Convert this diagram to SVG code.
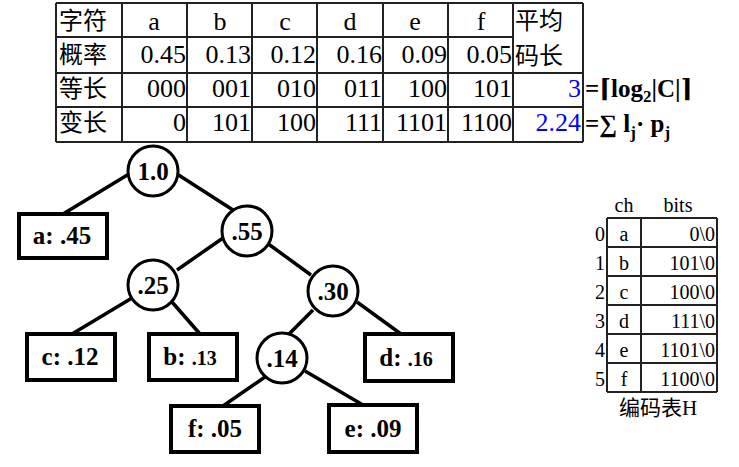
<svg xmlns="http://www.w3.org/2000/svg" width="739" height="467" viewBox="0 0 739 467">
<style>
.grid{stroke:#222;stroke-width:2;fill:none}
.cj{font-family:"Noto Sans CJK SC","Noto Sans CJK JP",sans-serif;font-size:24px;fill:#000}
.tm{font-family:"Liberation Serif","Times New Roman",Times,"DejaVu Serif",serif;font-size:26px;fill:#000}
.r{text-anchor:end}
.m{text-anchor:middle}
.blue{fill:#0000FF}
.fm{font-family:"Liberation Serif","Times New Roman",Times,"DejaVu Serif",serif;font-size:25px;font-weight:bold;fill:#000}
.edge{stroke:#000;stroke-width:3.5;fill:none}
.node circle{fill:#fff;stroke:#000;stroke-width:3}
.node rect{fill:#fff;stroke:#000;stroke-width:4}
.nt{font-family:"Liberation Serif","Times New Roman",Times,"DejaVu Serif",serif;font-size:25px;font-weight:bold;fill:#000;text-anchor:middle}
.ht{stroke:#222;stroke-width:2;fill:none}
.hs{font-family:"Liberation Serif","Times New Roman",Times,"DejaVu Serif",serif;font-size:20px;fill:#000}
.hc{font-family:"Noto Sans CJK SC",sans-serif;font-size:21px;fill:#000}
.hh{font-family:"Liberation Serif","Times New Roman",Times,"DejaVu Serif",serif}
</style>
<g id="table">
<path class="grid" d="M56,3H583M56,37H513M56,73H583M56,107H583M56,142H583M56,3V142M122,3V142M187,3V142M252,3V142M317,3V142M383,3V142M448,3V142M513,3V142M583,3V142"/>
<text class="cj" x="59" y="29">字符</text>
<text class="cj" x="59" y="63">概率</text>
<text class="cj" x="59" y="97">等长</text>
<text class="cj" x="59" y="131">变长</text>
<text class="cj" x="515" y="29">平均</text>
<text class="cj" x="515" y="64">码长</text>
<g class="tm m">
<text x="154" y="30">a</text><text x="220" y="30">b</text><text x="285" y="30">c</text><text x="350" y="30">d</text><text x="415" y="30">e</text><text x="481" y="30">f</text>
</g>
<g class="tm r">
<text x="186" y="63">0.45</text><text x="251" y="63">0.13</text><text x="316" y="63">0.12</text><text x="382" y="63">0.16</text><text x="447" y="63">0.09</text><text x="512" y="63">0.05</text>
<text x="186" y="97">000</text><text x="251" y="97">001</text><text x="316" y="97">010</text><text x="382" y="97">011</text><text x="447" y="97">100</text><text x="512" y="97">101</text>
<text x="186" y="131">0</text><text x="251" y="131">101</text><text x="316" y="131">100</text><text x="382" y="131">111</text><text x="447" y="131">1101</text><text x="512" y="131">1100</text>
<text class="blue" x="581" y="97">3</text><text class="blue" x="581" y="131">2.24</text>
</g>
<text class="fm" x="585" y="97">=⌈log<tspan font-size="17" dy="5">2</tspan><tspan dy="-5">|C|⌉</tspan></text>
<text class="fm" x="585" y="132">=∑ l<tspan font-size="17" dy="6">j</tspan><tspan dy="-6">· p</tspan><tspan font-size="17" dy="6">j</tspan></text>
</g>
<g id="connectors">
<line class="edge" x1="129" y1="174" x2="63" y2="214"/>
<line class="edge" x1="177" y1="174" x2="233" y2="210"/>
<line class="edge" x1="223" y1="238" x2="177" y2="270"/>
<line class="edge" x1="267" y1="243" x2="311" y2="275"/>
<line class="edge" x1="132" y1="298" x2="72" y2="334"/>
<line class="edge" x1="172" y1="302" x2="200" y2="334"/>
<line class="edge" x1="313" y1="310" x2="287" y2="336"/>
<line class="edge" x1="357" y1="302" x2="401" y2="334"/>
<line class="edge" x1="265" y1="377" x2="223" y2="406"/>
<line class="edge" x1="305" y1="371" x2="363" y2="405"/>
</g>
<g id="n10" class="node"><circle cx="153" cy="171" r="25"/><text class="nt" x="153" y="180">1.0</text></g>
<g id="n55" class="node"><circle cx="247" cy="231" r="25"/><text class="nt" x="247" y="240">.55</text></g>
<g id="n25" class="node"><circle cx="153" cy="285" r="25"/><text class="nt" x="153" y="294">.25</text></g>
<g id="n30" class="node"><circle cx="333" cy="291" r="25"/><text class="nt" x="333" y="300">.30</text></g>
<g id="n14" class="node"><circle cx="282" cy="358" r="25"/><text class="nt" x="282" y="367">.14</text></g>
<g id="la" class="node"><rect x="19" y="214" width="88" height="44"/><text class="nt" x="62" y="244">a: .45</text></g>
<g id="lc" class="node"><rect x="27" y="334" width="88" height="46"/><text class="nt" x="70" y="365">c: .12</text></g>
<g id="lb" class="node"><rect x="149" y="334" width="88" height="46"/><text class="nt" x="190" y="365">b: <tspan font-size="20">.13</tspan></text></g>
<g id="ld" class="node"><rect x="365" y="334" width="88" height="47"/><text class="nt" x="406" y="366">d: <tspan font-size="20">.16</tspan></text></g>
<g id="lf" class="node"><rect x="171" y="406" width="88" height="46"/><text class="nt" x="215" y="437">f: .05</text></g>
<g id="le" class="node"><rect x="329" y="405" width="88" height="47"/><text class="nt" x="373" y="437">e: .09</text></g>
<g id="codetable">
<path class="ht" d="M607,218H717M607,247H717M607,276H717M607,305H717M607,334H717M607,363H717M607,392H717M607,218V392M641,218V392M717,218V392"/>
<text class="hs m" x="624" y="212">ch</text>
<text class="hs m" x="678" y="212">bits</text>
<g class="hs r">
<text x="605" y="241">0</text><text x="605" y="270">1</text><text x="605" y="299">2</text><text x="605" y="328">3</text><text x="605" y="357">4</text><text x="605" y="386">5</text>
<text x="715" y="241">0\0</text><text x="715" y="270">101\0</text><text x="715" y="299">100\0</text><text x="715" y="328">111\0</text><text x="715" y="357">1101\0</text><text x="715" y="386">1100\0</text>
</g>
<g class="hs m">
<text x="624" y="241">a</text><text x="624" y="270">b</text><text x="624" y="299">c</text><text x="624" y="328">d</text><text x="624" y="357">e</text><text x="624" y="386">f</text>
</g>
<text class="hc" x="619" y="415">编码表<tspan class="hh">H</tspan></text>
</g>
</svg>
